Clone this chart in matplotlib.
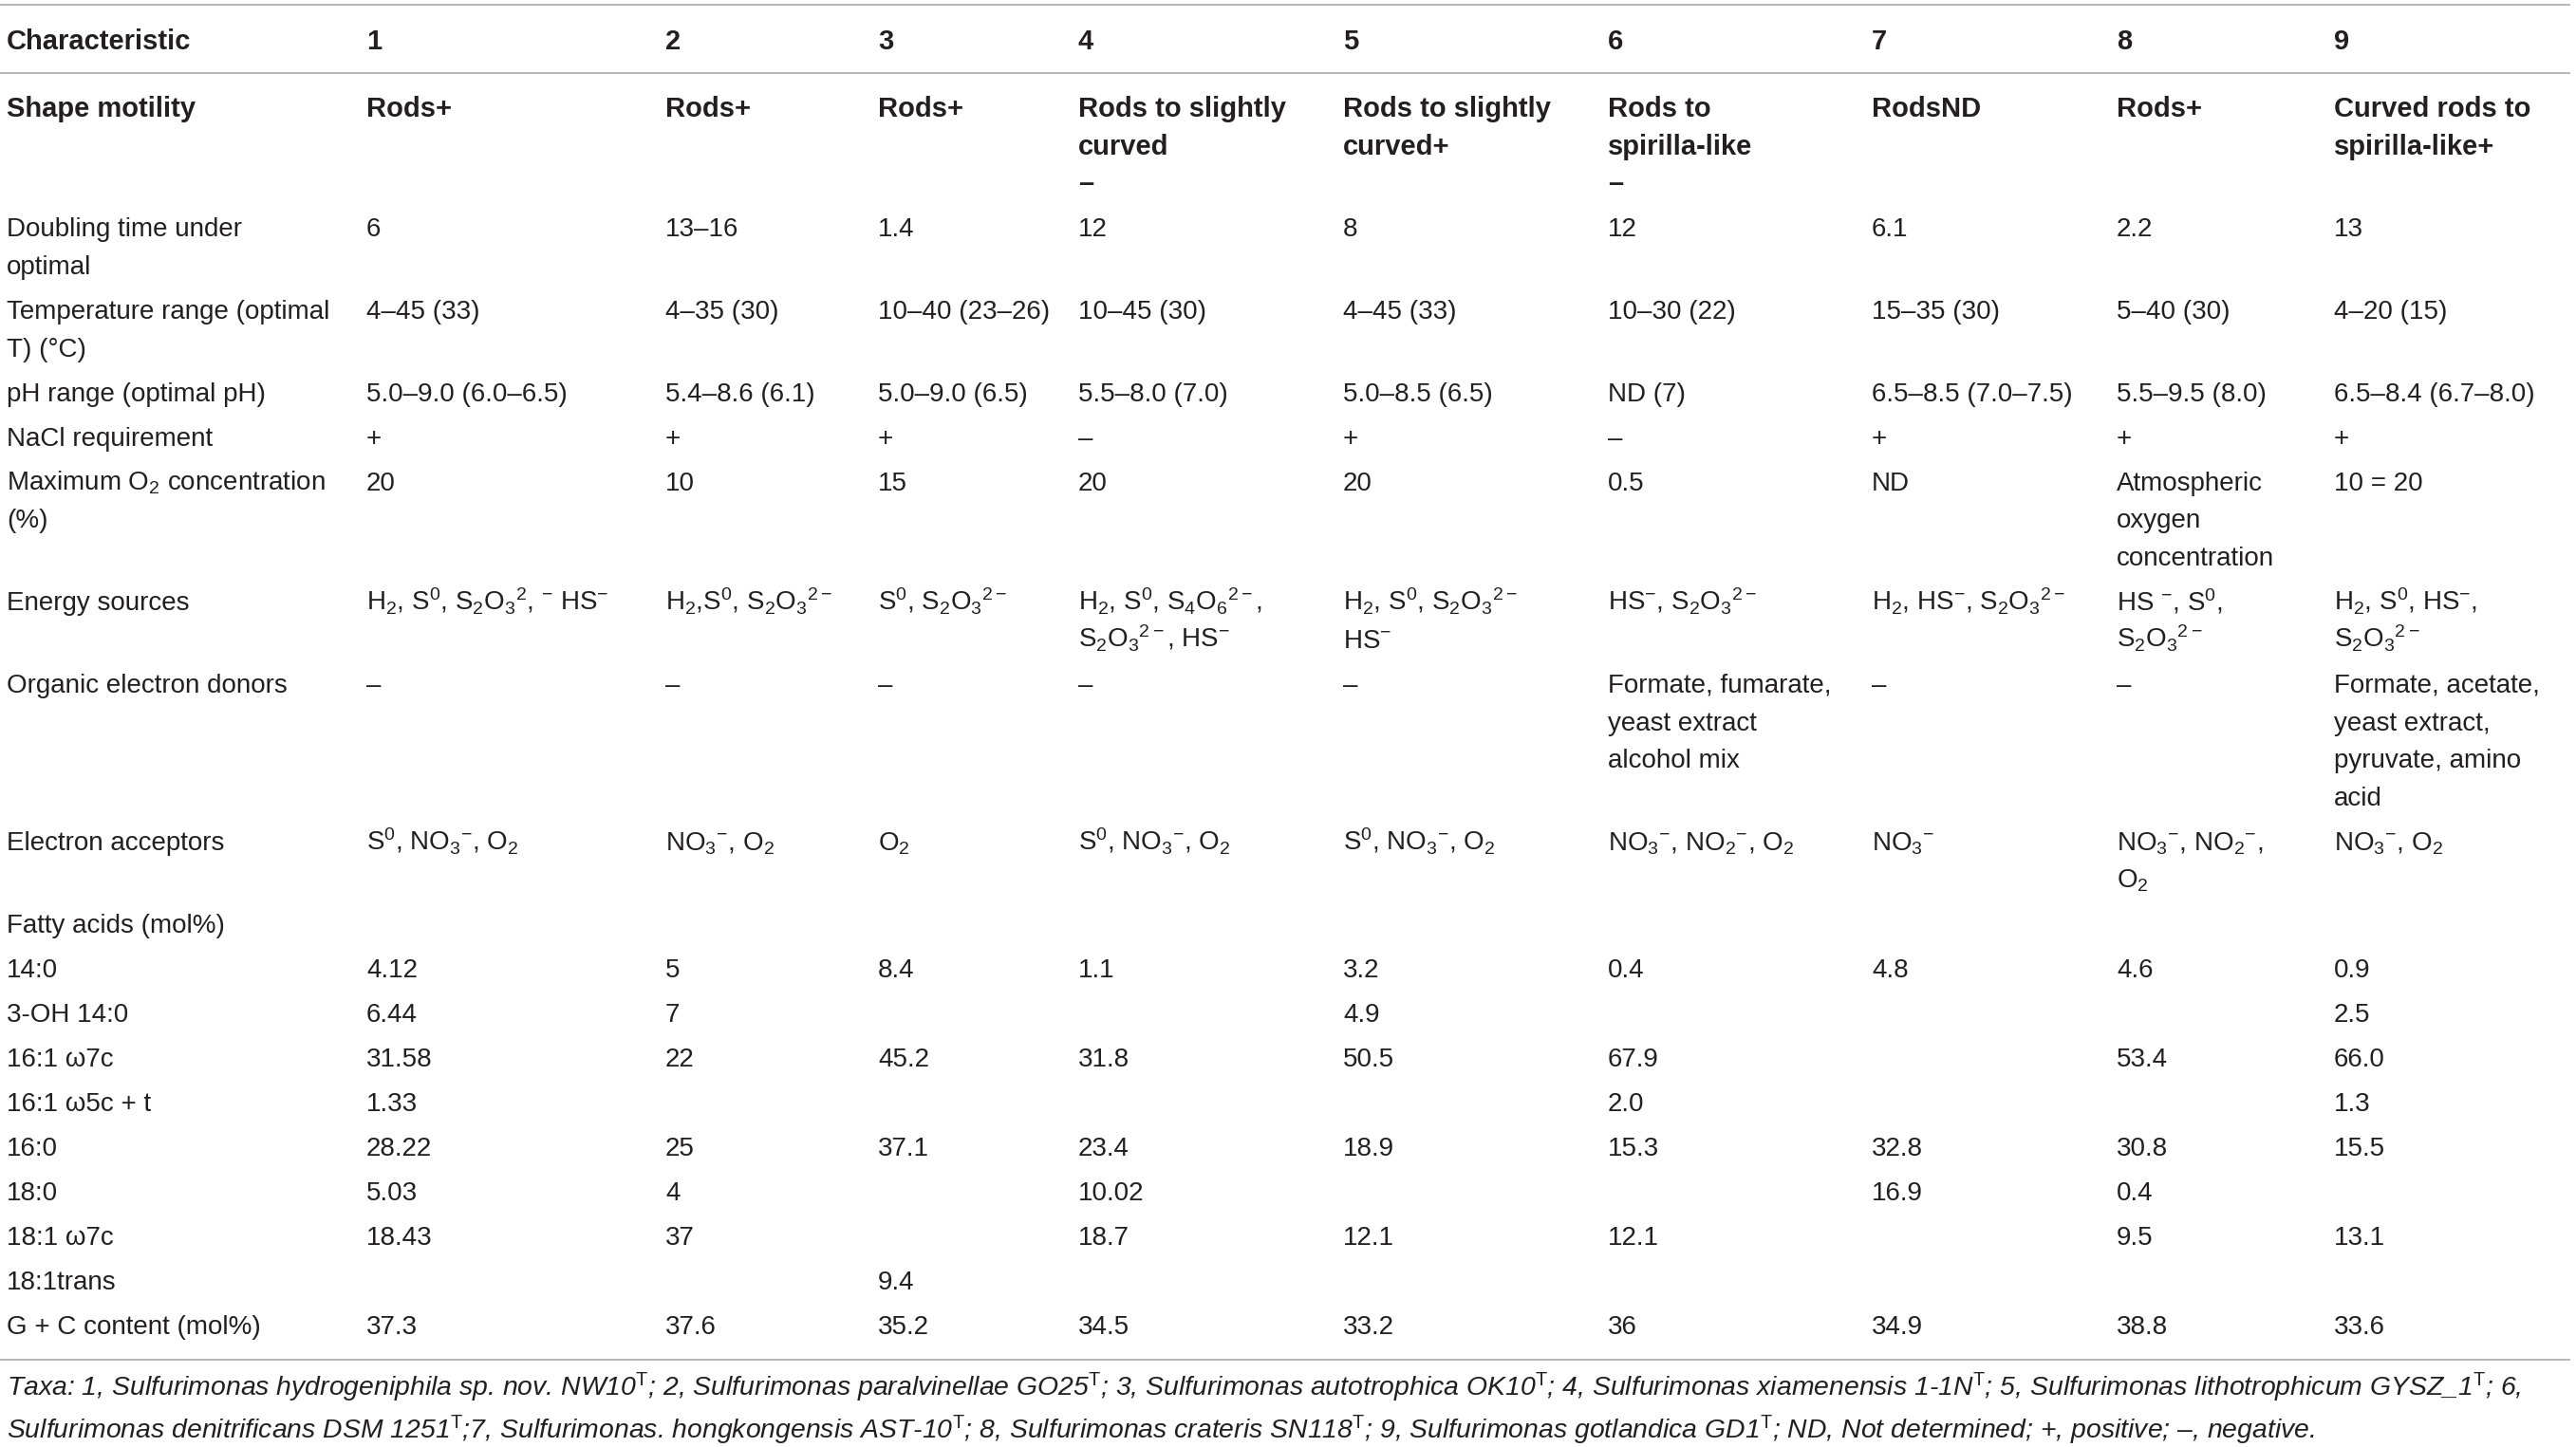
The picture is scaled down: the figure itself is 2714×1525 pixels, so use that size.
import matplotlib
matplotlib.use('Agg')
import matplotlib.pyplot as plt

# Fonts: Helvetica-like body, mathtext in the same face for sub/superscripts
plt.rcParams['font.family'] = 'Liberation Sans'
plt.rcParams['mathtext.fontset'] = 'custom'
plt.rcParams['mathtext.rm'] = 'Liberation Sans'
plt.rcParams['mathtext.it'] = 'Liberation Sans:italic'
plt.rcParams['mathtext.bf'] = 'Liberation Sans:bold'
plt.rcParams['mathtext.default'] = 'regular'

# ---- table data ----
header = ['Characteristic', '1', '2', '3', '4', '5', '6', '7', '8', '9']

row_labels = [
    'Shape motility',
    'Doubling time under\noptimal',
    'Temperature range (optimal\nT) (°C)',
    'pH range (optimal pH)',
    'NaCl requirement',
    'Maximum O$_2$ concentration\n(%)',
    'Energy sources',
    'Organic electron donors',
    'Electron acceptors',
    'Fatty acids (mol%)',
    '14:0',
    '3-OH 14:0',
    '16:1 ω7c',
    '16:1 ω5c + t',
    '16:0',
    '18:0',
    '18:1 ω7c',
    '18:1trans',
    'G + C content (mol%)',
]

shape_motility = ['Rods+', 'Rods+', 'Rods+', 'Rods to slightly\ncurved\n–',
                  'Rods to slightly\ncurved+', 'Rods to\nspirilla-like\n–',
                  'RodsND', 'Rods+', 'Curved rods to\nspirilla-like+']
doubling_time = ['6', '13–16', '1.4', '12', '8', '12', '6.1', '2.2', '13']
temperature = ['4–45 (33)', '4–35 (30)', '10–40 (23–26)', '10–45 (30)', '4–45 (33)',
               '10–30 (22)', '15–35 (30)', '5–40 (30)', '4–20 (15)']
ph_range = ['5.0–9.0 (6.0–6.5)', '5.4–8.6 (6.1)', '5.0–9.0 (6.5)', '5.5–8.0 (7.0)',
            '5.0–8.5 (6.5)', 'ND (7)', '6.5–8.5 (7.0–7.5)', '5.5–9.5 (8.0)',
            '6.5–8.4 (6.7–8.0)']
nacl = ['+', '+', '+', '–', '+', '–', '+', '+', '+']
max_o2 = ['20', '10', '15', '20', '20', '0.5', 'ND',
          'Atmospheric\noxygen\nconcentration', '10 = 20']
energy_sources = [
    'H$_2$, S$^0$, S$_2$O$_3$$^2$, $^{-}$ HS$^{-}$',
    'H$_2$,S$^0$, S$_2$O$_3$$^{2-}$',
    'S$^0$, S$_2$O$_3$$^{2-}$',
    'H$_2$, S$^0$, S$_4$O$_6$$^{2-}$,\nS$_2$O$_3$$^{2-}$, HS$^{-}$',
    'H$_2$, S$^0$, S$_2$O$_3$$^{2-}$\nHS$^{-}$',
    'HS$^{-}$, S$_2$O$_3$$^{2-}$',
    'H$_2$, HS$^{-}$, S$_2$O$_3$$^{2-}$',
    'HS $^{-}$, S$^0$,\nS$_2$O$_3$$^{2-}$',
    'H$_2$, S$^0$, HS$^{-}$,\nS$_2$O$_3$$^{2-}$',
]
organic_donors = ['–', '–', '–', '–', '–',
                  'Formate, fumarate,\nyeast extract\nalcohol mix', '–', '–',
                  'Formate, acetate,\nyeast extract,\npyruvate, amino\nacid']
electron_acceptors = [
    'S$^0$, NO$_3$$^{-}$, O$_2$',
    'NO$_3$$^{-}$, O$_2$',
    'O$_2$',
    'S$^0$, NO$_3$$^{-}$, O$_2$',
    'S$^0$, NO$_3$$^{-}$, O$_2$',
    'NO$_3$$^{-}$, NO$_2$$^{-}$, O$_2$',
    'NO$_3$$^{-}$',
    'NO$_3$$^{-}$, NO$_2$$^{-}$,\nO$_2$',
    'NO$_3$$^{-}$, O$_2$',
]
fatty_acids = [''] * 9
fa_14_0 = ['4.12', '5', '8.4', '1.1', '3.2', '0.4', '4.8', '4.6', '0.9']
fa_3oh_14_0 = ['6.44', '7', '', '', '4.9', '', '', '', '2.5']
fa_16_1_w7c = ['31.58', '22', '45.2', '31.8', '50.5', '67.9', '', '53.4', '66.0']
fa_16_1_w5c = ['1.33', '', '', '', '', '2.0', '', '', '1.3']
fa_16_0 = ['28.22', '25', '37.1', '23.4', '18.9', '15.3', '32.8', '30.8', '15.5']
fa_18_0 = ['5.03', '4', '', '10.02', '', '', '16.9', '0.4', '']
fa_18_1_w7c = ['18.43', '37', '', '18.7', '12.1', '12.1', '', '9.5', '13.1']
fa_18_1_trans = ['', '', '9.4', '', '', '', '', '', '']
gc_content = ['37.3', '37.6', '35.2', '34.5', '33.2', '36', '34.9', '38.8', '33.6']

rows = [shape_motility, doubling_time, temperature, ph_range, nacl, max_o2,
        energy_sources, organic_donors, electron_acceptors, fatty_acids,
        fa_14_0, fa_3oh_14_0, fa_16_1_w7c, fa_16_1_w5c, fa_16_0, fa_18_0,
        fa_18_1_w7c, fa_18_1_trans, gc_content]

footnote = [
    'Taxa: 1, Sulfurimonas hydrogeniphila sp. nov. NW10$^\\mathrm{T}$; '
    '2, Sulfurimonas paralvinellae GO25$^\\mathrm{T}$; 3, Sulfurimonas autotrophica OK10$^\\mathrm{T}$; '
    '4, Sulfurimonas xiamenensis 1-1N$^\\mathrm{T}$; 5, Sulfurimonas lithotrophicum GYSZ_1$^\\mathrm{T}$; 6,',
    'Sulfurimonas denitrificans DSM 1251$^\\mathrm{T}$;7, Sulfurimonas. hongkongensis AST-10$^\\mathrm{T}$; '
    '8, Sulfurimonas crateris SN118$^\\mathrm{T}$; 9, Sulfurimonas gotlandica GD1$^\\mathrm{T}$; '
    'ND, Not determined; +, positive; –, negative.',
]

# ---- layout (pixel coordinates) ----
W, H = 2714, 1525
col_x = [7, 386, 701, 925, 1136, 1415, 1694, 1972, 2230, 2459]
line_step = 39.7
row_gap = 47
text_color = '#231f20'
rule_color = '#a3a3a3'
body_size = 20
head_size = 21

fig = plt.figure(figsize=(W / 100, H / 100), dpi=100)
ax = fig.add_axes([0, 0, 1, 1])
ax.set_xlim(0, W)
ax.set_ylim(H, 0)
ax.axis('off')


def put(x, y, s, **kw):
    # draw a possibly multi-line cell, one line at a time
    for i, line in enumerate(s.split('\n')):
        if line:
            ax.text(x, y + i * line_step + 10, line, va='baseline', ha='left',
                    color=text_color, **kw)


# rules
for yy in (5, 77, 1433):
    ax.plot([0, 2708], [yy, yy], color=rule_color, lw=1.1, solid_capstyle='butt')

# header
for x, h in zip(col_x, header):
    put(x, 42, h, fontsize=head_size, fontweight='bold')

# body
y = 113
for i, (label, cells) in enumerate(zip(row_labels, rows)):
    weight = 'bold' if i == 0 else 'normal'
    size = head_size if i == 0 else body_size
    put(col_x[0], y, label, fontsize=size, fontweight=weight)
    for x, c in zip(col_x[1:], cells):
        put(x, y, c, fontsize=size, fontweight=weight)
    nlines = max(s.count('\n') + 1 for s in [label] + cells)
    y += (nlines - 1) * line_step + row_gap

# footnote
for k, line in enumerate(footnote):
    ax.text(7, 1471 + k * 45, line, va='baseline', ha='left', color=text_color,
            fontsize=20.4, fontstyle='italic')

fig.savefig('out.png', dpi=100)
